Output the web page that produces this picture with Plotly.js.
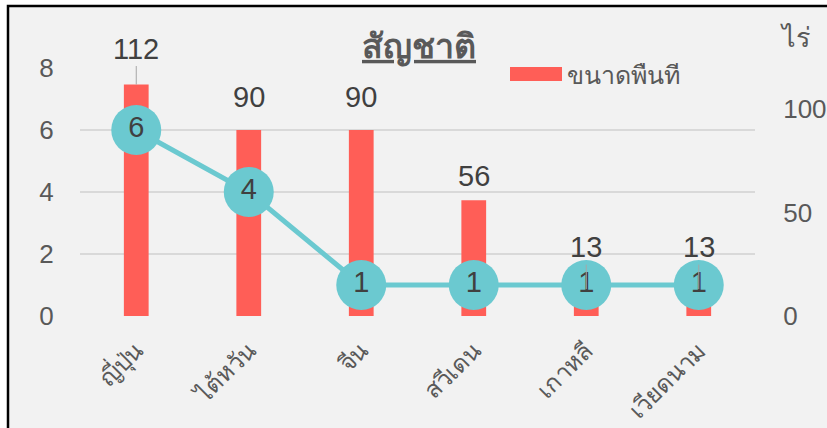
<!DOCTYPE html>
<html>
<head>
<meta charset="utf-8">
<script src="https://cdn.plot.ly/plotly-3.0.1.min.js"></script>
<style>html,body{margin:0;padding:0;background:#fff;}#chart{width:827px;height:428px;}</style>
</head>
<body>
<div id="chart"></div>
<script>
const categories = ["ญี่ปุ่น", "ไต้หวัน", "จีน", "สวีเดน", "เกาหลี", "เวียดนาม"];
const areaRai = [112, 90, 90, 56, 13, 13];
const counts = [6, 4, 1, 1, 1, 1];
const seriesName = "ขนาดพืนที";
const labelOffsets = [36, 33, 33, 24, 42, 42];

const W = 827, H = 428;
const mL = 80, mR = 72, mT = 68, mB = 112;
const pw = W - mL - mR, ph = H - mT - mB;
const px2x = p => (p - mL) / pw;
const py2y = p => (H - mB - p) / ph;

const fam = "Liberation Sans, Arial, Noto Sans, sans-serif";
const txtFont = {family: fam, size: 29, color: "#404040"};
const axFont = {family: fam, size: 26, color: "#595959"};

// bars on the primary (drawn first, right side), line on overlaying axis (drawn on top, left side)
const bars = {
  type: "bar", x: categories, y: areaRai, yaxis: "y", name: seriesName,
  marker: {color: "#FF5E57"}, width: 0.22, showlegend: false
};
const line = {
  type: "scatter", mode: "lines+markers+text", x: categories, y: counts, yaxis: "y2",
  text: counts.map(String), textposition: "middle center", textfont: txtFont,
  line: {color: "#6BC9D0", width: 5}, marker: {color: "#6BC9D0", size: 50},
  showlegend: false, cliponaxis: false
};

const annotations = areaRai.map((v, i) => {
  const off = labelOffsets[i];
  const arrow = off > 34;
  return {
    x: categories[i], y: v, xref: "x", yref: "y", text: String(v), font: txtFont,
    showarrow: arrow, arrowhead: 0, arrowwidth: 1, arrowcolor: "#A6A6A6",
    ax: 0, ay: -off, yshift: arrow ? 0 : off, yanchor: "middle", xanchor: "center"
  };
});
annotations.push({
  x: px2x(778), y: py2y(38), xref: "paper", yref: "paper", text: "ไร่",
  xanchor: "left", yanchor: "middle",
  showarrow: false, font: {family: fam, size: 27, color: "#595959"}
});
annotations.push({
  x: px2x(565), y: py2y(75), xref: "paper", yref: "paper", text: seriesName,
  xanchor: "left", yanchor: "middle",
  showarrow: false, font: {family: fam, size: 25, color: "#595959"}
});

const layout = {
  width: W, height: H,
  margin: {l: mL, r: mR, t: mT, b: mB, pad: 0},
  paper_bgcolor: "#ffffff", plot_bgcolor: "rgba(0,0,0,0)",
  title: {
    text: "<b>สัญชาติ</b>", x: 419 / W, xanchor: "center",
    y: 1 - 46 / H, yanchor: "middle",
    font: {family: fam, size: 34, color: "#595959", lineposition: "under"}
  },
  showlegend: false,
  bargap: 0.5,
  xaxis: {
    type: "category", range: [-0.5, 5.5], tickangle: -45, tickfont: {family: fam, size: 24, color: "#595959"},
    showgrid: false, zeroline: false, showline: false, ticks: "outside", ticklen: 10, tickcolor: "rgba(0,0,0,0)"
  },
  yaxis: {
    range: [0, 120], dtick: 50, side: "right", tickfont: axFont,
    showgrid: false, zeroline: false, showline: false, ticks: "outside", ticklen: 22, tickcolor: "rgba(0,0,0,0)"
  },
  yaxis2: {
    range: [0, 8], dtick: 2, overlaying: "y", side: "left", tickfont: axFont,
    showgrid: true, gridcolor: "#D9D9D9", gridwidth: 2,
    zeroline: false, showline: false, ticks: "outside", ticklen: 20, tickcolor: "rgba(0,0,0,0)"
  },
  shapes: [{
    type: "rect", xref: "paper", yref: "paper", layer: "below",
    x0: px2x(8), x1: px2x(840), y0: py2y(440), y1: py2y(6),
    fillcolor: "#F2F2F2", line: {color: "#000000", width: 2.5}
  }, {
    type: "rect", xref: "paper", yref: "paper", layer: "above",
    x0: px2x(510), x1: px2x(562), y0: py2y(81), y1: py2y(67),
    fillcolor: "#FF5E57", line: {width: 0}
  }],
  annotations: annotations
};

Plotly.newPlot("chart", [bars, line], layout, {displayModeBar: false, staticPlot: true});
</script>
</body>
</html>
